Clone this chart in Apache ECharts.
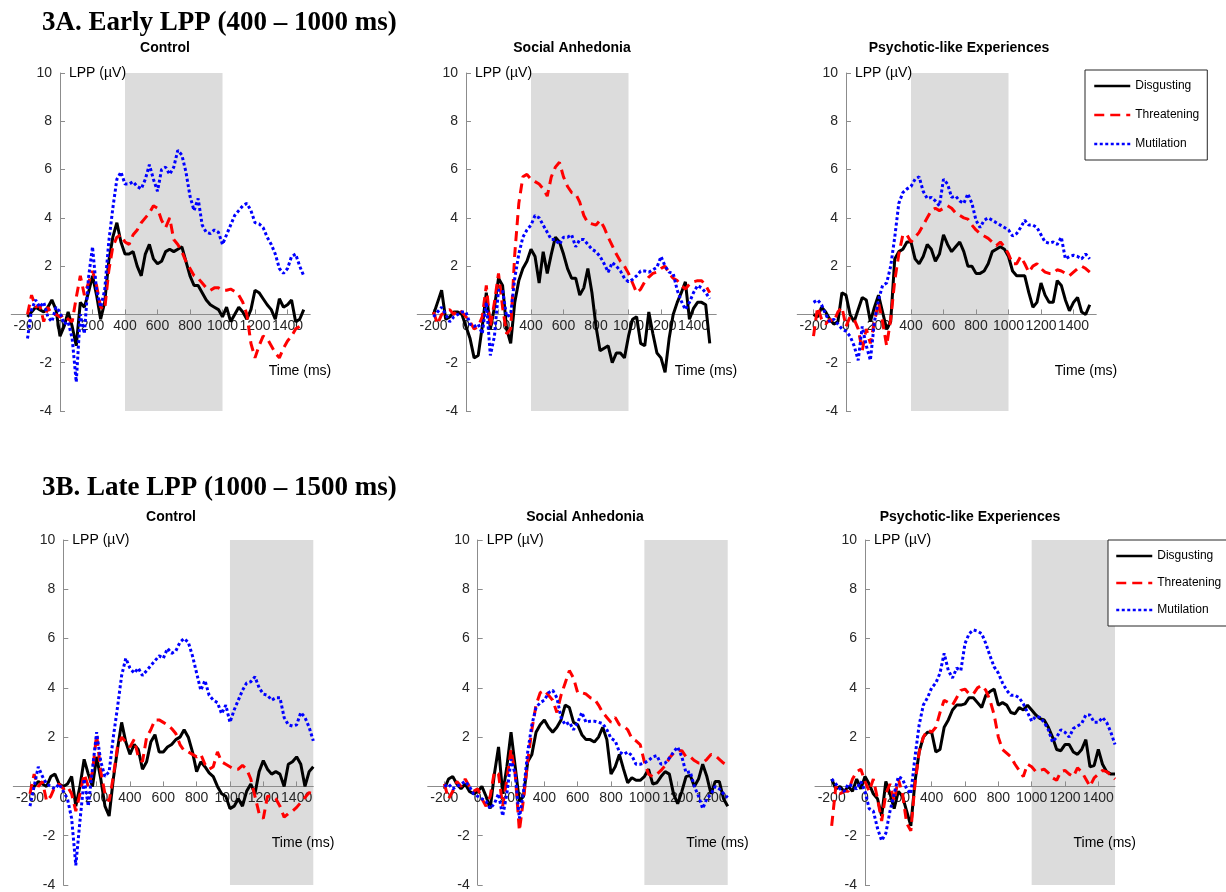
<!DOCTYPE html>
<html>
<head>
<meta charset="utf-8">
<title>LPP waveforms</title>
<script src="https://cdn.jsdelivr.net/npm/echarts@6/dist/echarts.min.js"></script>
<style>
  html, body { margin: 0; padding: 0; background: #fff; }
  #chart { width: 1226px; height: 892px; }
</style>
</head>
<body>
<div id="chart"></div>
<script>
// sample times (ms), shared by every waveform
const times = [
  -200, -175, -150, -125, -100, -75, -50, -25,
  0, 25, 50, 75, 100, 125, 150, 175,
  200, 225, 250, 275, 300, 325, 350, 375,
  400, 425, 450, 475, 500, 525, 550, 575,
  600, 625, 650, 675, 700, 725, 750, 775,
  800, 825, 850, 875, 900, 925, 950, 975,
  1000, 1025, 1050, 1075, 1100, 1125, 1150, 1175,
  1200, 1225, 1250, 1275, 1300, 1325, 1350, 1375,
  1400, 1425, 1450, 1475, 1500
]

const conditions = ['Disgusting', 'Threatening', 'Mutilation']
const groups = ['Control', 'Social Anhedonia', 'Psychotic-like Experiences']
const xTicks = [-200, 0, 200, 400, 600, 800, 1000, 1200, 1400]
const yTicks = [-4, -2, 2, 4, 6, 8, 10]
const earlyWindow = [400, 1000]
const lateWindow = [1000, 1500]

// 3A - early LPP
const earlyControlDisgusting = [
  -0.1, 0.1, 0.3, 0.2, 0.1, 0.3, 0.6, 0.2,
  -0.9, -0.5, 0.1, -0.5, -1.3, 0.5, 0.3, 0.9,
  1.6, 0.8, -0.2, 0.5, 2.2, 3.2, 3.8, 3.0,
  2.5, 2.5, 2.6, 2.0, 1.6, 2.5, 2.9, 2.3,
  2.1, 2.2, 2.6, 2.7, 2.6, 2.7, 2.8, 2.2,
  1.6, 1.2, 1.2, 0.9, 0.6, 0.4, 0.3, 0.2,
  -0.1, 0.3, -0.3, 0.0, 0.3, 0.1, -0.2, 0.2,
  1.0, 0.9, 0.65, 0.4, 0.2, -0.2, 0.65, 0.3,
  0.4, 0.6, -0.3, -0.2, 0.2
]
const earlyControlThreatening = [
  0.0, 0.8, 0.3, 0.4, -0.3, 0.3, 0.0, 0.0,
  -0.1, 0.0, -0.2, -0.3, 0.7, 1.6, 0.8, 1.3,
  1.8, 1.2, 0.3, 0.2, 1.8, 2.8, 3.2, 3.3,
  3.0, 2.9, 3.3, 3.5, 3.8, 4.0, 4.2, 4.5,
  4.4, 3.9, 3.6, 4.0, 3.1, 2.9, 2.6, 2.2,
  1.9, 1.6, 1.5, 1.3, 1.1, 1.0, 1.1, 1.1,
  1.0, 1.0, 1.05, 0.95, 0.8, 0.5, 0.0, -1.2,
  -1.8, -1.3, -0.9, -1.0, -1.3, -1.6, -1.8, -1.4,
  -1.1, -0.9, -0.6, -0.5, -0.5
]
const earlyControlMutilation = [
  -1.0, 0.2, 0.6, 0.3, 0.5, -0.1, -0.3, 0.3,
  0.1, -0.4, -0.3, -1.0, -2.8, 0.0, -0.8, 1.5,
  2.8, 1.0, 0.3, 1.0, 3.0, 4.4, 5.6, 5.9,
  5.4, 5.4, 5.5, 5.3, 5.2, 5.6, 6.2, 5.6,
  5.1, 6.0, 6.1, 5.8, 6.1, 6.8, 6.6, 5.9,
  4.9, 4.3, 4.8, 3.7, 3.4, 3.35, 3.5, 3.4,
  2.9, 3.3, 3.7, 4.1, 4.3, 4.5, 4.6, 4.3,
  3.8, 3.75, 3.6, 3.2, 2.9, 2.5, 1.9, 1.7,
  1.9, 2.4, 2.5, 2.0, 1.6
]
const earlyAnhedoniaDisgusting = [
  0.0, 0.5, 1.0, -0.2, -0.1, 0.1, 0.1, 0.0,
  -0.5, -1.0, -1.8, -1.7, -0.5, 0.9, -0.6, 0.3,
  1.5, 1.2, -0.6, -1.2, 0.5, 1.4, 1.9, 2.2,
  2.7, 2.4, 1.3, 2.6, 1.7, 2.5, 3.2, 3.0,
  2.5, 1.9, 1.5, 1.5, 0.8, 1.1, 1.9, 0.9,
  -0.5, -1.5, -1.4, -1.3, -2.0, -1.6, -1.6, -1.8,
  -0.9, -0.2, -0.1, -1.2, -1.3, 0.1, -0.8, -1.6,
  -1.8, -2.4, -1.0, 0.0, 0.5, 0.9, 1.35, -0.2,
  0.25, 0.5, 0.5, 0.4, -1.2
]
const earlyAnhedoniaThreatening = [
  0.1, -0.4, 0.0, 0.1, 0.2, 0.0, 0.2, 0.1,
  -0.1, -0.3, -0.6, -0.5, -0.1, 1.2, -0.5, 0.5,
  1.7, 0.3, -0.8, -0.6, 2.5, 4.6, 5.7, 5.8,
  5.6, 5.5, 5.4, 5.2, 4.9, 5.7, 6.1, 6.3,
  5.7, 5.3, 5.05, 5.0, 4.65, 4.1, 3.8, 3.75,
  3.7, 3.9, 3.6, 3.2, 2.85, 2.5, 2.2, 2.0,
  1.7, 1.3, 0.9, 1.05, 1.35, 1.55, 1.7, 1.75,
  1.9, 2.0, 1.7, 1.5, 1.4, 1.2, 1.05, 1.25,
  1.35, 1.4, 1.4, 1.2, 0.9
]
const earlyAnhedoniaMutilation = [
  -0.1, 0.1, 0.3, 0.0, -0.3, -0.1, 0.0, 0.1,
  0.1, -0.4, -0.5, -0.4, -0.8, 0.5, -1.7, -0.9,
  1.0, 1.0, -0.1, 0.0, 1.5, 2.5, 3.2, 3.5,
  3.7, 4.1, 4.0, 3.7, 3.4, 3.1, 3.1, 2.9,
  3.2, 3.2, 3.3, 2.8, 3.1, 3.1, 2.9, 2.7,
  2.6, 2.4, 2.1, 1.75, 2.15, 2.0, 1.8, 1.5,
  1.35, 1.45, 1.6, 1.8, 1.8, 1.75, 1.85, 1.95,
  2.4, 2.0, 1.75, 1.7, 1.0, 0.55, 0.2, 0.5,
  0.9, 1.2, 1.1, 0.9, 0.65
]
const earlyPsychoticDisgusting = [
  0.0, -0.1, 0.3, 0.1, -0.2, -0.4, -0.3, 0.9,
  0.8, 0.0, -0.3, 0.2, 0.7, 0.6, -0.3, 0.3,
  0.8, 0.1, -0.6, -0.3, 2.3, 2.6, 2.7, 3.0,
  3.0, 2.3, 2.1, 2.4, 2.9, 2.7, 2.2, 2.5,
  3.3, 2.9, 2.6, 2.8, 3.0, 2.6, 2.0, 2.0,
  1.7, 1.7, 1.8, 2.1, 2.6, 2.7, 2.8, 2.7,
  2.4, 1.8, 1.6, 1.6, 1.6, 0.9, 0.3, 0.5,
  1.3, 0.8, 0.5, 0.5, 1.4, 1.2, 0.6, 0.15,
  0.5, 0.7, 0.1, 0.0, 0.4
]
const earlyPsychoticThreatening = [
  -0.9, 0.3, -0.2, -0.4, -0.2, -0.3, 0.1, 0.3,
  -0.5, -0.1, -0.2, -0.6, -1.5, -0.6, -1.2, -0.3,
  0.5, -0.3, -1.3, -0.2, 1.4, 2.5, 3.3, 3.3,
  3.0, 3.2, 3.4, 3.7, 4.0, 4.3, 4.4, 4.3,
  4.4, 4.5, 4.4, 4.2, 4.1, 4.0, 3.95, 3.7,
  3.5, 3.35, 3.25, 3.15, 3.0, 2.85, 3.0, 2.8,
  2.5, 2.1, 2.1, 2.4, 2.1, 1.75, 2.0, 2.1,
  1.9, 1.75, 1.7, 1.7, 1.85, 1.8, 1.7, 1.6,
  1.75, 1.9, 2.0, 1.9, 1.75
]
const earlyPsychoticMutilation = [
  0.5, 0.6, 0.4, 0.0, -0.3, -0.2, -0.4, -0.6,
  -0.7, -0.9, -1.3, -1.9, -0.5, -1.3, -1.9, -0.3,
  0.6, 1.2, 1.3, 2.0, 3.2, 4.6, 5.05, 5.2,
  5.3, 5.6, 5.7, 5.1, 4.8, 4.85, 4.7, 4.5,
  5.6, 5.4, 4.85, 4.9, 4.7, 4.6, 5.0, 4.6,
  3.9, 3.6, 3.9, 4.0, 3.9, 3.8, 3.7, 3.6,
  3.5, 3.25, 3.35, 3.6, 3.9, 3.7, 3.7, 3.6,
  3.3, 3.0, 2.95, 3.0, 2.9, 3.2, 2.3, 2.4,
  2.45, 2.4, 2.3, 2.5, 2.3
]

// 3B - late LPP
const lateControlDisgusting = [
  0.0, 0.0, 0.2, 0.1, 0.0, 0.4, 0.5, 0.1,
  0.0, 0.1, 0.4, -0.8, 0.0, 1.1, 0.5, 0.0,
  1.2, 0.3, -0.8, -1.2, 0.3, 1.5, 2.6, 1.8,
  1.3, 1.7, 1.5, 0.7, 1.0, 1.8, 2.1, 1.4,
  1.4, 1.6, 1.7, 1.9, 2.0, 2.3, 2.0, 1.4,
  0.6, 1.0, 0.8, 0.55, 0.4, 0.0, -0.3, -0.4,
  -0.9, -0.8, -0.5, -0.8, -0.2, 0.1, -0.3, 0.6,
  1.05, 0.7, 0.5, 0.6, 0.5, 0.0, 0.9, 1.0,
  1.2, 0.9, 0.0, 0.6, 0.8
]
const lateControlThreatening = [
  -0.3, 0.5, 0.0, 0.2, -0.6, -0.4, 0.0, 0.1,
  -0.1, 0.0, -0.3, -1.0, -0.3, 0.5, 0.0, 0.6,
  2.1, 0.6, -0.3, -0.6, 0.4, 1.6, 2.0, 1.8,
  1.6, 1.9, 1.2, 1.0, 2.0, 2.3, 2.7, 2.7,
  2.6, 2.5, 2.35, 2.15, 1.7, 1.45, 1.4, 1.3,
  1.2, 1.3, 0.9, 0.7, 0.8, 1.4, 1.0, 0.9,
  0.8, 0.7, 0.7, 0.85, 0.7, 0.3, -0.4, -1.1,
  -1.3, -0.4, -0.4, -0.5, -0.8, -1.25, -1.1, -1.0,
  -0.85, -0.65, -0.45, -0.25, -0.3
]
const lateControlMutilation = [
  -0.8, 0.0, 0.8, 0.4, 0.1, 0.0, -0.1, 0.1,
  -0.2, -0.5, -1.3, -3.2, -1.4, 0.3, -0.8, 0.7,
  2.2, 1.0, 0.4, 0.6, 2.0, 3.2, 4.5, 5.2,
  4.8, 4.6, 4.8, 4.5, 4.7, 4.9, 5.1, 5.3,
  5.2, 5.6, 5.4, 5.5, 5.85, 6.0, 5.85, 5.3,
  4.6, 3.9, 4.3, 3.7, 3.5, 3.4, 2.95, 3.3,
  2.6, 3.1, 3.5, 3.9, 4.2, 4.25, 4.45, 4.0,
  3.75, 3.7, 3.5, 3.6, 3.6, 2.8, 2.5, 2.45,
  2.5, 3.0, 2.8, 2.4, 1.85
]
const lateAnhedoniaDisgusting = [
  -0.1, 0.3, 0.4, 0.1, -0.1, 0.1, -0.2, -0.3,
  -0.2, 0.0, -0.4, -0.9, 0.5, 1.6, -0.3, 0.8,
  2.2, 0.8, -0.6, -0.4, 1.0, 1.3, 2.2, 2.5,
  2.7, 2.4, 2.2, 2.4, 2.7, 3.3, 3.2, 2.6,
  2.5, 2.1, 1.9, 1.9, 1.8, 2.0, 2.4, 1.9,
  0.5, 0.8, 1.3, 0.7, 0.15, 0.35, 0.25, 0.25,
  0.4, 0.7, 0.1, 0.15, 0.4, 0.6, 0.5, -0.3,
  -0.7, -0.2, 0.4, 0.45, 0.0, 0.3, 0.9, 0.4,
  -0.3, 0.2, 0.2, -0.5, -0.8
]
const lateAnhedoniaThreatening = [
  0.1, -0.5, -0.2, 0.2, 0.0, 0.3, 0.0, -0.2,
  -0.1, -0.5, -0.8, -0.4, 0.6, 0.5, -0.8, 0.3,
  1.5, 0.5, -1.8, -0.5, 1.0, 2.3, 3.3, 3.8,
  3.9, 3.7, 3.5, 3.0, 3.7, 4.2, 4.7, 4.4,
  3.8, 3.8, 3.75, 3.6, 3.55, 3.3, 3.0, 2.8,
  2.6, 2.8, 2.5, 2.45, 2.3, 1.95, 1.85, 1.7,
  1.0, 0.5, 0.4, 0.5, 0.65, 0.85, 1.15, 1.35,
  1.45, 1.45, 1.2, 1.2, 1.05, 0.95, 0.95, 1.1,
  1.3, 1.25, 1.1, 0.95, 0.85
]
const lateAnhedoniaMutilation = [
  0.0, 0.1, -0.1, 0.0, 0.1, 0.2, 0.0, -0.3,
  -0.4, -0.5, -0.6, -0.9, -0.7, -0.3, -1.2, -0.3,
  1.1, 0.5, -1.3, -0.2, 1.4, 2.5, 3.2, 3.4,
  3.5, 3.8, 3.9, 3.6, 2.8, 2.5, 2.6, 2.3,
  2.6, 3.0, 2.6, 2.65, 2.65, 2.6, 2.55, 2.3,
  1.95, 1.85, 1.4, 1.3, 1.4, 1.25, 0.9, 0.9,
  0.95, 1.05, 1.2, 1.25, 0.9, 0.95, 1.15, 1.4,
  1.6, 1.2, 0.55, 0.6, 0.0, -0.4, -0.9, -0.5,
  -0.3, 0.0, -0.1, -0.3, -0.45
]
const latePsychoticDisgusting = [
  0.3, -0.1, 0.0, -0.2, 0.0, -0.2, 0.3, -0.1,
  0.4, 0.1, -0.3, -0.5, -1.2, 0.2, -0.3, -0.9,
  -0.2, -0.4, -1.0, -1.6, 0.2, 1.4, 2.0, 2.2,
  2.2, 1.4, 1.5, 2.4, 2.7, 3.1, 3.3, 3.3,
  3.35, 3.6, 3.6, 3.4, 3.2, 3.7, 3.85, 3.95,
  3.3, 3.4, 3.3, 3.0, 2.95, 3.2, 3.1, 3.3,
  3.1, 2.9, 2.75, 2.7, 2.4, 2.0, 1.5, 1.45,
  1.7, 1.7, 1.4, 1.3, 1.5, 1.9, 0.8, 0.85,
  1.5, 0.9, 0.6, 0.5, 0.5
]
const latePsychoticThreatening = [
  -1.6, 0.0, -0.3, -0.2, -0.2, 0.3, 0.6, 0.7,
  0.2, -0.2, 0.3, -0.5, -1.4, -0.3, 0.1, -0.6,
  0.3, -0.3, -1.5, -1.8, 0.1, 1.4, 2.0, 2.3,
  2.2, 2.4, 3.0, 3.5, 3.4, 3.3, 3.6, 3.9,
  3.95, 3.75, 3.75, 4.0, 4.1, 3.9, 3.5, 2.9,
  2.0, 1.5, 1.35, 1.2, 0.9, 0.65, 0.4, 0.9,
  0.8, 0.6, 0.65, 0.7, 0.55, 0.35, 0.25, 0.6,
  0.65, 0.5, 0.4, 0.75, 0.6, 0.3, 0.0, 0.35,
  0.5, 0.65, 0.6, 0.45, 0.3
]
const latePsychoticMutilation = [
  0.3, 0.1, -0.1, -0.2, 0.1, 0.0, -0.1, 0.2,
  -0.2, -0.9, -1.0, -1.7, -2.2, -1.9, -1.0, -0.3,
  0.4, 0.3, -0.1, -0.3, 1.2, 2.5, 3.3, 3.6,
  4.0, 4.2, 4.6, 5.4, 4.7, 4.4, 4.8, 4.7,
  5.8, 6.2, 6.35, 6.3, 6.2, 5.8, 5.3, 4.85,
  4.6, 4.2, 3.9, 3.7, 3.7, 3.6, 3.35, 3.0,
  2.65, 2.85, 2.8, 2.6, 2.3, 1.8, 2.0, 2.3,
  2.2, 2.0, 2.35, 2.45, 2.55, 2.9, 2.9, 2.6,
  2.6, 2.8, 2.6, 2.2, 1.7
]

const FONT = '"Liberation Sans", Arial, Helvetica, sans-serif'
const SERIF = '"Liberation Serif", "Times New Roman", serif'
const AXIS_GREY = '#8c8c8c'
const LABEL_GREY = '#262626'
const X_MIN = -300
const Y_MIN = -4
const Y_MAX = 10

// line look for each condition (same order as conditions)
const lineStyles = [
  { color: '#000000', width: 3, type: 'solid' },
  { color: '#ff0000', width: 3, type: [10, 6] },
  { color: '#0000ff', width: 3, type: [3, 2.5] },
]

// panel layout: plot rectangles in px
const panels = [
  { left: 11.25, top: 73, width: 299, height: 338, xMax: 1540, win: earlyWindow, titleX: 165, titleY: 48,
    values: [earlyControlDisgusting, earlyControlThreatening, earlyControlMutilation] },
  { left: 417.25, top: 73, width: 299, height: 338, xMax: 1540, win: earlyWindow, titleX: 572, titleY: 48,
    values: [earlyAnhedoniaDisgusting, earlyAnhedoniaThreatening, earlyAnhedoniaMutilation] },
  { left: 797.25, top: 73, width: 299, height: 338, xMax: 1540, win: earlyWindow, titleX: 959, titleY: 48,
    values: [earlyPsychoticDisgusting, earlyPsychoticThreatening, earlyPsychoticMutilation] },
  { left: 13.3, top: 540, width: 300, height: 345, xMax: 1500, win: lateWindow, titleX: 171, titleY: 517,
    values: [lateControlDisgusting, lateControlThreatening, lateControlMutilation] },
  { left: 427.7, top: 540, width: 300, height: 345, xMax: 1500, win: lateWindow, titleX: 585, titleY: 517,
    values: [lateAnhedoniaDisgusting, lateAnhedoniaThreatening, lateAnhedoniaMutilation] },
  { left: 815, top: 540, width: 300, height: 345, xMax: 1500, win: lateWindow, titleX: 970, titleY: 517,
    values: [latePsychoticDisgusting, latePsychoticThreatening, latePsychoticMutilation] },
]

const toPairs = vals => times.map((t, i) => [t, vals[i]])

const grids = []
const xAxes = []
const yAxes = []
const series = []
const graphics = []

panels.forEach((p, i) => {
  grids.push({ left: p.left, top: p.top, width: p.width, height: p.height, show: false })

  // axes cross at the origin (MATLAB style): shift them into the plot with negative offsets
  const xOffset = -p.height * (0 - Y_MIN) / (Y_MAX - Y_MIN)
  const yOffset = -p.width * (0 - X_MIN) / (p.xMax - X_MIN)

  xAxes.push({
    type: 'value',
    gridIndex: i,
    position: 'bottom',
    offset: xOffset,
    min: X_MIN,
    max: p.xMax,
    interval: 100,
    z: 2,
    axisLine: { onZero: false, lineStyle: { color: AXIS_GREY, width: 1 } },
    axisTick: { inside: true, length: 5, customValues: xTicks, lineStyle: { color: AXIS_GREY } },
    axisLabel: {
      customValues: xTicks, color: LABEL_GREY, fontSize: 14, fontFamily: FONT, margin: 5,
      formatter: v => String(v)
    },
    splitLine: { show: false },
    name: 'Time (ms)',
    nameLocation: 'end',
    nameGap: 21,
    nameTextStyle: {
      color: '#000', fontSize: 14, fontFamily: FONT,
      align: 'right', verticalAlign: 'top', padding: [50, 0, 0, 0]
    },
  })

  yAxes.push({
    type: 'value',
    gridIndex: i,
    position: 'left',
    offset: yOffset,
    min: Y_MIN,
    max: Y_MAX,
    interval: 2,
    z: 2,
    axisLine: { onZero: false, lineStyle: { color: AXIS_GREY, width: 1 } },
    axisTick: { inside: true, length: 5, customValues: yTicks, lineStyle: { color: AXIS_GREY } },
    axisLabel: {
      customValues: yTicks, color: LABEL_GREY, fontSize: 14, fontFamily: FONT, margin: 8,
      formatter: v => String(v)
    },
    splitLine: { show: false },
    name: 'LPP (µV)',
    nameLocation: 'end',
    nameGap: 0,
    nameTextStyle: {
      color: '#000', fontSize: 14, fontFamily: FONT,
      align: 'left', verticalAlign: 'middle', padding: [0, 0, 0, 9]
    },
  })

  // grey analysis window
  series.push({
    type: 'line',
    name: 'window',
    xAxisIndex: i,
    yAxisIndex: i,
    data: [],
    silent: true,
    z: 1,
    markArea: {
      silent: true,
      itemStyle: { color: '#dcdcdc' },
      data: [[{ xAxis: p.win[0] }, { xAxis: p.win[1] }]],
    },
  })

  p.values.forEach((vals, k) => {
    series.push({
      type: 'line',
      name: conditions[k],
      xAxisIndex: i,
      yAxisIndex: i,
      data: toPairs(vals),
      symbol: 'none',
      z: 3 + k,
      lineStyle: lineStyles[k],
      itemStyle: { color: lineStyles[k].color },
    })
  })

  graphics.push({
    type: 'text',
    x: p.titleX,
    y: p.titleY,
    style: {
      text: groups[i % 3],
      fill: '#000',
      font: 'bold 14px ' + FONT,
      align: 'center',
      verticalAlign: 'middle',
    },
  })
})

graphics.push(
  { type: 'text', x: 42, y: 23,
    style: { text: '3A. Early LPP (400 – 1000 ms)', fill: '#000', font: 'bold 27px ' + SERIF, verticalAlign: 'middle' } },
  { type: 'text', x: 42, y: 488,
    style: { text: '3B. Late LPP (1000 – 1500 ms)', fill: '#000', font: 'bold 27px ' + SERIF, verticalAlign: 'middle' } }
)

const legendBase = {
  data: conditions,
  orient: 'vertical',
  selectedMode: false,
  itemWidth: 36,
  itemHeight: 14,
  backgroundColor: '#fff',
  borderColor: '#262626',
  borderWidth: 1,
  borderRadius: 0,
  itemStyle: { opacity: 0 },
  lineStyle: { width: 2.5 },
  textStyle: { color: '#000', fontSize: 12, fontFamily: FONT },
}

const chart = echarts.init(document.getElementById('chart'), null, { renderer: 'canvas' })
chart.setOption({
  animation: false,
  backgroundColor: '#fff',
  grid: grids,
  xAxis: xAxes,
  yAxis: yAxes,
  legend: [
    Object.assign({}, legendBase, { left: 1085, top: 70, itemGap: 17, padding: [10, 8, 10, 8] }),
    Object.assign({}, legendBase, { left: 1108, top: 540, itemGap: 15, padding: [10, 6, 10, 7] }),
  ],
  graphic: graphics,
  series: series,
})
</script>
</body>
</html>
